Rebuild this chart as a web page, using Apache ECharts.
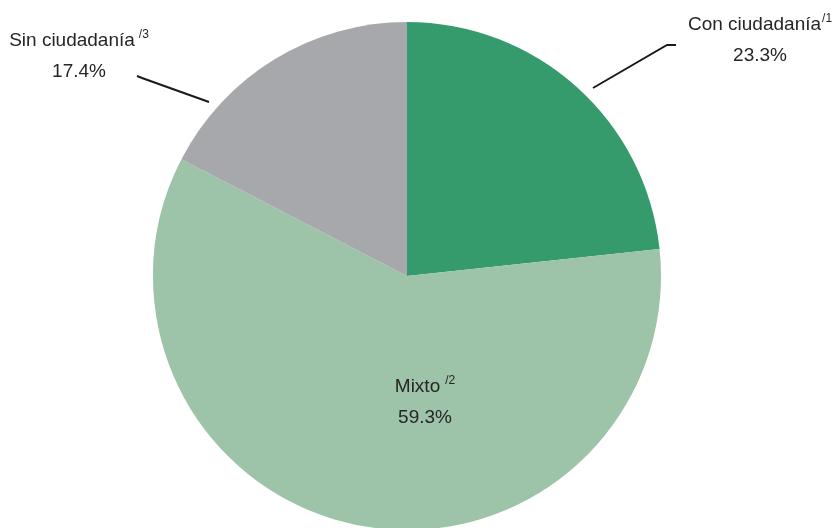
<!DOCTYPE html>
<html>
<head>
<meta charset="utf-8">
<script src="https://cdn.jsdelivr.net/npm/echarts@6/dist/echarts.min.js"></script>
<style>
  html, body { margin: 0; padding: 0; background: #ffffff; }
  #chart { width: 836px; height: 528px; }
</style>
</head>
<body>
<div id="chart"></div>
<script>
// Households by citizenship status of their members (percent)
const categories = ['Con ciudadanía', 'Mixto', 'Sin ciudadanía'];
const notes = ['/1', '/2', '/3'];
const values = [23.3, 59.3, 17.4];
const colors = ['#359B6C', '#9DC3A9', '#A7A8AC'];

const FONT = '"Liberation Sans", Arial, sans-serif';
const TEXT = '#262626';

// Label anchor (block centre), gap before the note mark, and leader line for each slice
const labelSpots = [
  { x: 760, y: 40, gap: 1, line: [[593, 88], [667, 45], [676, 45]] },
  { x: 425, y: 402, gap: 5, line: null },
  { x: 79, y: 56, gap: 4, line: [[209, 102], [142, 78], [137, 76]] }
];

const data = categories.map((name, i) => ({
  name: name,
  value: values[i],
  itemStyle: { color: colors[i] },
  label: { position: i === 1 ? 'inside' : 'outside' },
  labelLine: { show: i !== 1 }
}));

const rich = {
  n: { fontFamily: FONT, fontSize: 19, color: TEXT, lineHeight: 31, align: 'center' },
  v: { fontFamily: FONT, fontSize: 19, color: TEXT, lineHeight: 31, align: 'center' }
};
labelSpots.forEach((s, i) => {
  rich['s' + i] = { fontFamily: FONT, fontSize: 12, color: TEXT, lineHeight: 31, padding: [0, 0, 12, s.gap], align: 'center' };
});

const chart = echarts.init(document.getElementById('chart'), null, { renderer: 'canvas' });
chart.setOption({
  animation: false,
  backgroundColor: '#ffffff',
  series: [{
    type: 'pie',
    center: [407, 276],
    radius: [0, 254],
    startAngle: 90,
    clockwise: true,
    avoidLabelOverlap: false,
    itemStyle: { borderWidth: 0 },
    data: data,
    label: {
      show: true,
      fontFamily: FONT,
      color: TEXT,
      formatter: p => '{n|' + p.name + '}{s' + p.dataIndex + '|' + notes[p.dataIndex] + '}\n{v|' + p.value.toFixed(1) + '%}',
      rich: rich
    },
    labelLine: {
      show: true,
      lineStyle: { color: '#1a1a1a', width: 2 }
    },
    labelLayout: function (params) {
      const spot = labelSpots[params.dataIndex];
      const out = { x: spot.x, y: spot.y, align: 'center', verticalAlign: 'middle', moveOverlap: false };
      if (spot.line) out.labelLinePoints = spot.line;
      return out;
    }
  }]
});
</script>
</body>
</html>
